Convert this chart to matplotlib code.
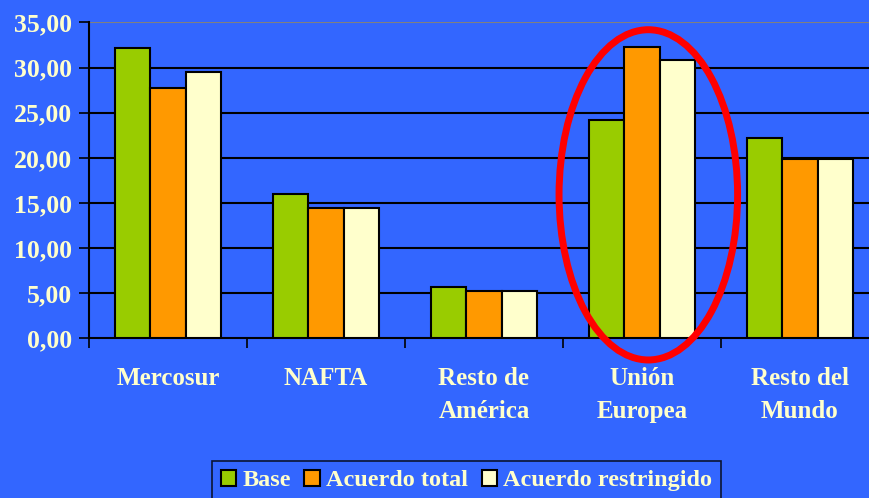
import numpy as np
import matplotlib.pyplot as plt
from matplotlib.patches import Ellipse

# Data
regions = ['Mercosur', 'NAFTA', 'Resto de\nAmérica', 'Unión\nEuropea', 'Resto del\nMundo']
base = [32.15, 15.95, 5.72, 24.15, 22.15]
acuerdo_total = [27.7, 14.4, 5.24, 32.3, 19.9]
acuerdo_restringido = [29.5, 14.4, 5.24, 30.8, 19.9]
series_names = ['Base', 'Acuerdo total', 'Acuerdo restringido']
yticks = [0, 5, 10, 15, 20, 25, 30, 35]

bg = '#3366FF'
txt = '#FFFFCC'
colors = ['#99CC00', '#FF9900', '#FFFFCC']
font = dict(family='Liberation Serif', weight='bold', color=txt)

fig = plt.figure(figsize=(8.7, 4.98), dpi=100, facecolor=bg)
ax = fig.add_axes([89 / 870, 1 - 338.3 / 498, 790 / 870, (338.3 - 22.5) / 498])
ax.set_facecolor(bg)

x = np.arange(len(regions))
w = 0.222
for i, (vals, name) in enumerate(zip([base, acuerdo_total, acuerdo_restringido], series_names)):
    ax.bar(x + (i - 1) * w, vals, width=w, color=colors[i], edgecolor='black',
           linewidth=1.5, label=name, zorder=3)

ax.set_xlim(-0.5, len(regions) - 0.5)
ax.set_ylim(0, 35)
ax.set_yticks(yticks)
ax.set_yticklabels([f'{v:.2f}'.replace('.', ',') for v in yticks], fontsize=18.5, **font)
for v in yticks[1:]:
    ax.axhline(v, color='#808080' if v == 35 else 'black', linewidth=1.5, zorder=1)

# category labels in the middle, ticks on the boundaries
ax.set_xticks(x)
ax.set_xticklabels(regions, fontsize=18, linespacing=1.55, **font)
ax.tick_params(axis='x', length=0, pad=21)
ax.set_xticks(np.arange(len(regions) + 1) - 0.5, minor=True)
ax.tick_params(axis='x', which='minor', length=7, width=1.2, direction='out', color='black')
ax.tick_params(axis='y', length=7, width=1.2, direction='out', color='black', pad=5)

for s in ['top', 'right']:
    ax.spines[s].set_visible(False)
for s in ['left', 'bottom']:
    ax.spines[s].set_color('black')
    ax.spines[s].set_linewidth(1.5)

# red ellipse around Unión Europea
ell = Ellipse((3.04, 15.9), width=1.13, height=36.6, fill=False, edgecolor='red',
              linewidth=5, clip_on=False, zorder=5)
ax.add_patch(ell)

leg = fig.legend(loc='upper center', bbox_to_anchor=(466.5 / 870, 1 - 461 / 498), ncol=3,
                 frameon=True, fancybox=False, facecolor=bg, edgecolor='black',
                 borderaxespad=0, handlelength=0.65, handleheight=0.65, handletextpad=0.25,
                 columnspacing=0.55, borderpad=0.35,
                 prop={'family': 'Liberation Serif', 'weight': 'bold', 'size': 17.5})
leg.get_frame().set_linewidth(1.2)
for t in leg.get_texts():
    t.set_color(txt)

plt.savefig('out.png', dpi=100, facecolor=bg)
